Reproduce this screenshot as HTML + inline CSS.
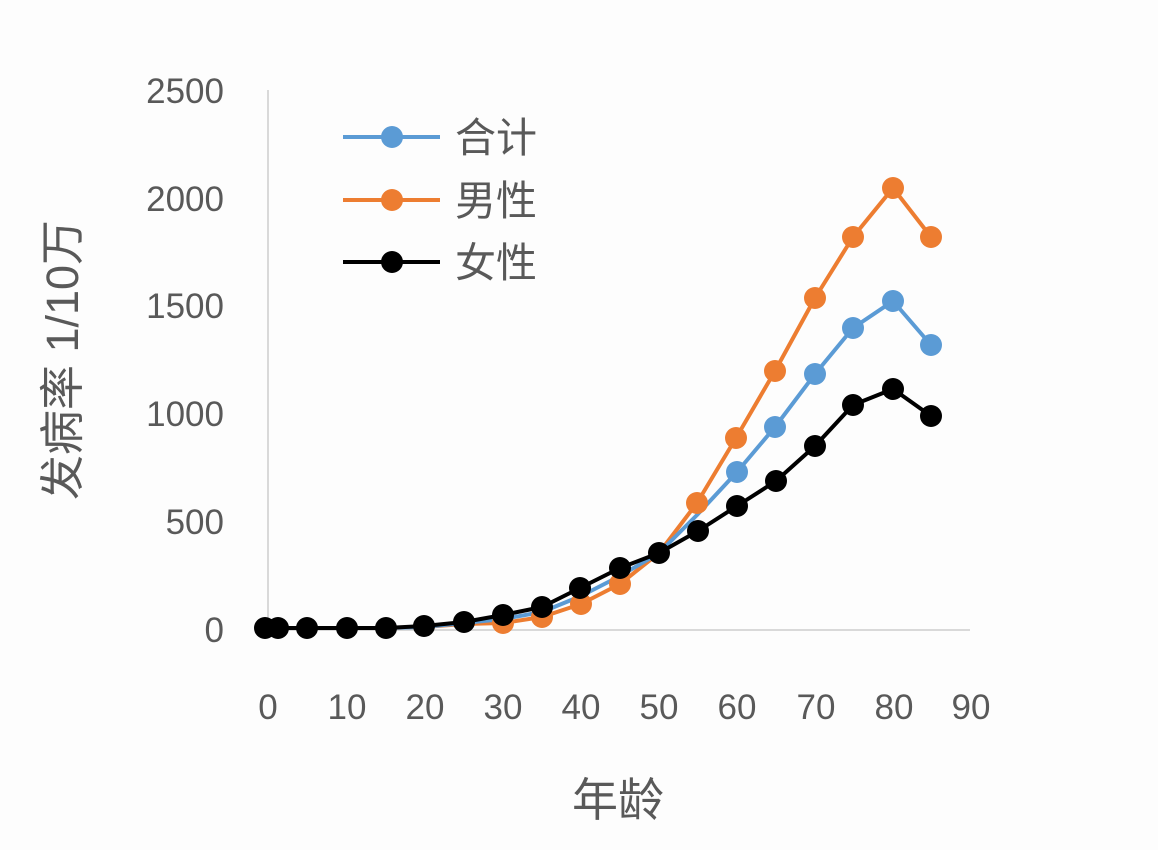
<!DOCTYPE html>
<html><head><meta charset="utf-8"><style>
body{margin:0;background:#fff;}
svg text{font-family:"Liberation Sans","Noto Sans CJK SC",sans-serif;fill:#595959;}
</style></head><body>
<svg width="1158" height="850" xmlns="http://www.w3.org/2000/svg">
<rect width="1158" height="850" fill="#fdfdfd"/>
<line x1="268" y1="90" x2="268" y2="630" stroke="#d9d9d9" stroke-width="2"/>
<line x1="268" y1="630" x2="970" y2="630" stroke="#d9d9d9" stroke-width="2"/>
<g font-size="35" text-anchor="end">
<text x="224" y="642">0</text><text x="224" y="534">500</text><text x="224" y="426">1000</text>
<text x="224" y="318">1500</text><text x="224" y="211">2000</text><text x="224" y="103">2500</text>
</g>
<g font-size="35" text-anchor="middle">
<text x="268" y="719">0</text><text x="347" y="719">10</text><text x="425" y="719">20</text><text x="503" y="719">30</text><text x="581" y="719">40</text><text x="659" y="719">50</text><text x="737" y="719">60</text><text x="816" y="719">70</text><text x="894" y="719">80</text><text x="971" y="719">90</text>
</g>
<text x="618" y="816" font-size="46" text-anchor="middle">年龄</text>
<text transform="translate(78,360) rotate(-90)" font-size="45" text-anchor="middle">发病率 1/10万</text>
<g fill="none" stroke-width="4" stroke-linejoin="round">
<polyline stroke="#ed7d31" points="265,628 278,628 307,628 347,628 386,628 424,627 464,624 503,623 542,617 581,604 620,584 659,553 697,503 736,438 775,371 815,298 853,237 893,188 931,237"/>
<polyline stroke="#5b9bd5" points="265,628 278,628 307,628 347,628 386,628 424,627 464,623 503,619 542,612 581,596 620,576 659,553 697,515 737,472 775,427 815,374 853,328 893,301 931,345"/>
<polyline stroke="#000" points="265,628 278,628 307,628 347,628 386,628 424,626 464,622 503,615 542,607 580,588 620,568 659,553 698,531 737,506 776,481 815,446 853,405 893,389 931,416"/>
</g>
<g fill="#ed7d31">
<circle cx="503" cy="623" r="11"/><circle cx="542" cy="617" r="11"/><circle cx="581" cy="604" r="11"/><circle cx="620" cy="584" r="11"/><circle cx="697" cy="503" r="11"/><circle cx="736" cy="438" r="11"/><circle cx="775" cy="371" r="11"/><circle cx="815" cy="298" r="11"/><circle cx="853" cy="237" r="11"/><circle cx="893" cy="188" r="11"/><circle cx="931" cy="237" r="11"/>
</g>
<g fill="#5b9bd5">
<circle cx="737" cy="472" r="11"/><circle cx="775" cy="427" r="11"/><circle cx="815" cy="374" r="11"/><circle cx="853" cy="328" r="11"/><circle cx="893" cy="301" r="11"/><circle cx="931" cy="345" r="11"/>
</g>
<g fill="#000">
<circle cx="265" cy="628" r="11"/><circle cx="278" cy="628" r="11"/><circle cx="307" cy="628" r="11"/><circle cx="347" cy="628" r="11"/><circle cx="386" cy="628" r="11"/><circle cx="424" cy="626" r="11"/><circle cx="464" cy="622" r="11"/><circle cx="503" cy="615" r="11"/><circle cx="542" cy="607" r="11"/><circle cx="580" cy="588" r="11"/><circle cx="620" cy="568" r="11"/><circle cx="659" cy="553" r="11"/><circle cx="698" cy="531" r="11"/><circle cx="737" cy="506" r="11"/><circle cx="776" cy="481" r="11"/><circle cx="815" cy="446" r="11"/><circle cx="853" cy="405" r="11"/><circle cx="893" cy="389" r="11"/><circle cx="931" cy="416" r="11"/>
</g>
<g stroke-width="4">
<line x1="343" y1="137" x2="440" y2="137" stroke="#5b9bd5"/><circle cx="392" cy="137" r="11" fill="#5b9bd5"/>
<line x1="343" y1="200" x2="440" y2="200" stroke="#ed7d31"/><circle cx="392" cy="200" r="11" fill="#ed7d31"/>
<line x1="343" y1="262" x2="440" y2="262" stroke="#000"/><circle cx="392" cy="262" r="11" fill="#000"/>
</g>
<g font-size="41">
<text x="455" y="152">合计</text><text x="455" y="215">男性</text><text x="455" y="277">女性</text>
</g>
</svg>
</body></html>
